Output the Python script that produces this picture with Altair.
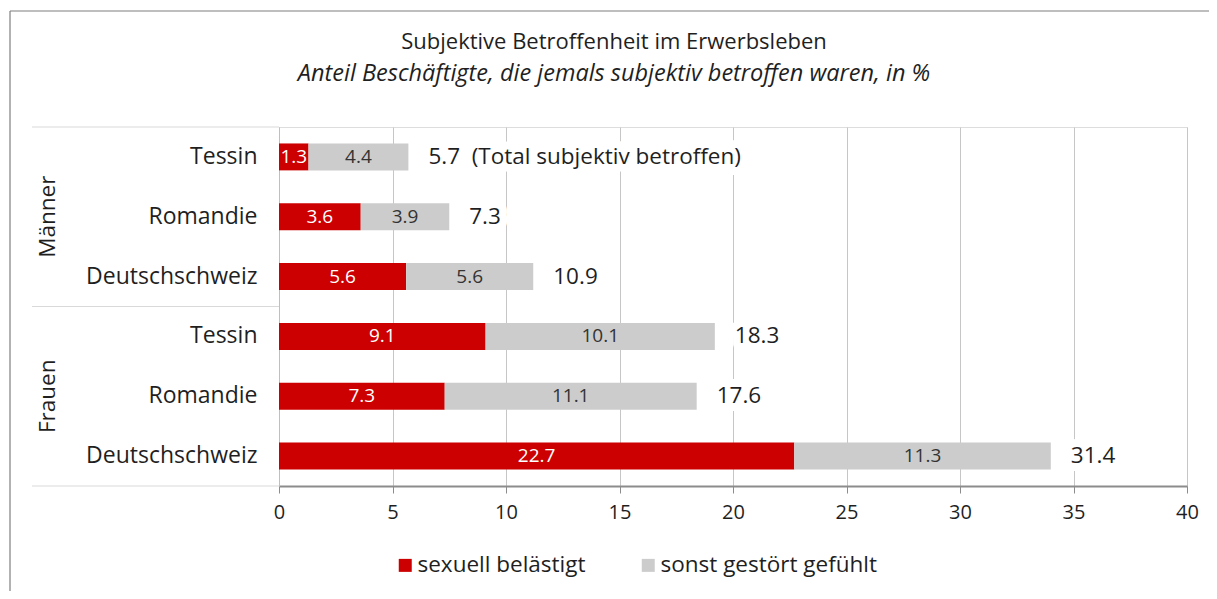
import altair as alt
import pandas as pd

# ---- data ----
groups = ["Männer", "Männer", "Männer", "Frauen", "Frauen", "Frauen"]
regions = ["Tessin", "Romandie", "Deutschschweiz", "Tessin", "Romandie", "Deutschschweiz"]
sexuell = [1.3, 3.6, 5.6, 9.1, 7.3, 22.7]
sonst = [4.4, 3.9, 5.6, 10.1, 11.1, 11.3]
total = [5.7, 7.3, 10.9, 18.3, 17.6, 31.4]
total_note = ["\u00a0\u00a0(Total subjektiv betroffen)", "", "", "", "", ""]
series = ["sexuell belästigt", "sonst gestört gefühlt"]
colors = ["#CC0000", "#CCCCCC"]
x_ticks = [0, 5, 10, 15, 20, 25, 30, 35, 40]

title_text = "Subjektive Betroffenheit im Erwerbsleben"
subtitle_text = "Anteil Beschäftigte, die jemals subjektiv betroffen waren, in %"

FONT = "Open Sans"
DARK = "#1F1F1F"
W, H = 908, 359
PAD = {"left": 271, "top": 119, "right": 22, "bottom": 105}

keys = [f"{g}|{r}" for g, r in zip(groups, regions)]

long_rows = []
for k, a, b in zip(keys, sexuell, sonst):
    long_rows.append({"key": k, "cat": series[0], "value": a, "ord": 0})
    long_rows.append({"key": k, "cat": series[1], "value": b, "ord": 1})
long_df = pd.DataFrame(long_rows)

tot_df = pd.DataFrame({
    "key": keys,
    "group": groups,
    "region": regions,
    "end": [a + b for a, b in zip(sexuell, sonst)],
    "label": [f"{t:.1f}{n}" for t, n in zip(total, total_note)],
})

grp_df = tot_df[tot_df["region"] == "Romandie"]

y_enc = alt.Y(
    "key:N", sort=keys, title=None,
    scale=alt.Scale(paddingInner=0.55, paddingOuter=0.275),
    axis=alt.Axis(
        labelExpr="split(datum.label, '|')[1]", ticks=False,
        labelFontSize=23, labelPadding=22, labelColor=DARK, labelFont=FONT,
        domainColor="#BFBFBF", grid=False,
    ),
)
x_scale = alt.Scale(domain=[0, 40], nice=False)

base = alt.Chart(long_df).transform_stack(
    stack="value", groupby=["key"], as_=["x0", "x1"],
    sort=[alt.SortField("ord", order="ascending")],
)

bars = base.mark_bar().encode(
    x=alt.X("x0:Q", scale=x_scale, title=None,
            axis=alt.Axis(values=x_ticks, labelFontSize=20, labelColor=DARK, labelFont=FONT,
                          labelPadding=9, labelFlush=False, domainColor="#8C8C8C", domainWidth=2,
                          tickColor="#8C8C8C", tickSize=7, gridColor="#C6C6C6")),
    x2="x1:Q",
    y=y_enc,
    color=alt.Color("cat:N", scale=alt.Scale(domain=series, range=colors),
                    legend=alt.Legend(
                        title=None, orient="none", direction="horizontal",
                        legendX=115, legendY=427, symbolType="square", symbolSize=169,
                        symbolStrokeWidth=0, labelFontSize=22.5, labelFont=FONT,
                        labelColor=DARK, labelOffset=1, columnPadding=51, padding=0,
                        labelLimit=0)),
)

seg_text = base.transform_calculate(mid="(datum.x0 + datum.x1) / 2").mark_text(
    fontSize=19, font=FONT, baseline="middle", align="center"
).encode(
    x="mid:Q",
    y=alt.Y("key:N", sort=keys),
    text=alt.Text("value:Q", format=".1f"),
    color=alt.condition(alt.datum.cat == series[0], alt.value("white"), alt.value("#333333")),
)

tot = alt.Chart(tot_df)
tot_halo = tot.mark_text(
    fontSize=22.5, font=FONT, align="left", baseline="middle", dx=20,
    stroke="white", strokeWidth=16, strokeJoin="round", color="white",
).encode(x="end:Q", y=alt.Y("key:N", sort=keys), text="label:N")
tot_text = tot.mark_text(
    fontSize=22.5, font=FONT, align="left", baseline="middle", dx=20, color=DARK,
).encode(x="end:Q", y=alt.Y("key:N", sort=keys), text="label:N")

grp_text = alt.Chart(grp_df).mark_text(
    fontSize=22.5, font=FONT, angle=270, align="center", baseline="middle", color=DARK,
).encode(x=alt.value(-231), y=alt.Y("key:N", sort=keys), text="group:N")

# title block as text marks
ttl_df = pd.DataFrame({"t": [title_text]})
sub_df = pd.DataFrame({"t": [subtitle_text]})
ttl = alt.Chart(ttl_df).mark_text(
    fontSize=22, font=FONT, align="center", baseline="middle", color=DARK,
).encode(x=alt.value(335), y=alt.value(-85), text="t:N")
sub = alt.Chart(sub_df).mark_text(
    fontSize=23.5, font=FONT, fontStyle="italic", align="center", baseline="middle", color=DARK,
).encode(x=alt.value(335), y=alt.value(-53), text="t:N")

one = pd.DataFrame({"a": [0]})
sep_top = alt.Chart(one).mark_rule(color="#D9D9D9", strokeWidth=1).encode(
    x=alt.value(-247), x2=alt.value(0), y=alt.value(0))
sep_mid = alt.Chart(one).mark_rule(color="#D9D9D9", strokeWidth=1).encode(
    x=alt.value(-247), x2=alt.value(0), y=alt.value(H / 2))
sep_bot = alt.Chart(one).mark_rule(color="#D9D9D9", strokeWidth=1).encode(
    x=alt.value(-247), x2=alt.value(0), y=alt.value(H))

frame_top = alt.Chart(one).mark_rule(color="#7F7F7F", strokeWidth=1.2).encode(
    x=alt.value(-269), x2=alt.value(W + PAD["right"]), y=alt.value(-116))
frame_left = alt.Chart(one).mark_rule(color="#7F7F7F", strokeWidth=1.2).encode(
    x=alt.value(-269), y=alt.value(-116), y2=alt.value(H + PAD["bottom"]))

chart = alt.layer(
    bars, seg_text, tot_halo, tot_text, grp_text, ttl, sub,
    sep_top, sep_mid, sep_bot, frame_top, frame_left,
).properties(
    width=W, height=H,
    autosize=alt.AutoSizeParams(type="none"),
    padding=PAD,
).configure_view(stroke="#D9D9D9").configure(background="white")

chart.save("out.html", embed_options={"renderer": "svg", "actions": False})
